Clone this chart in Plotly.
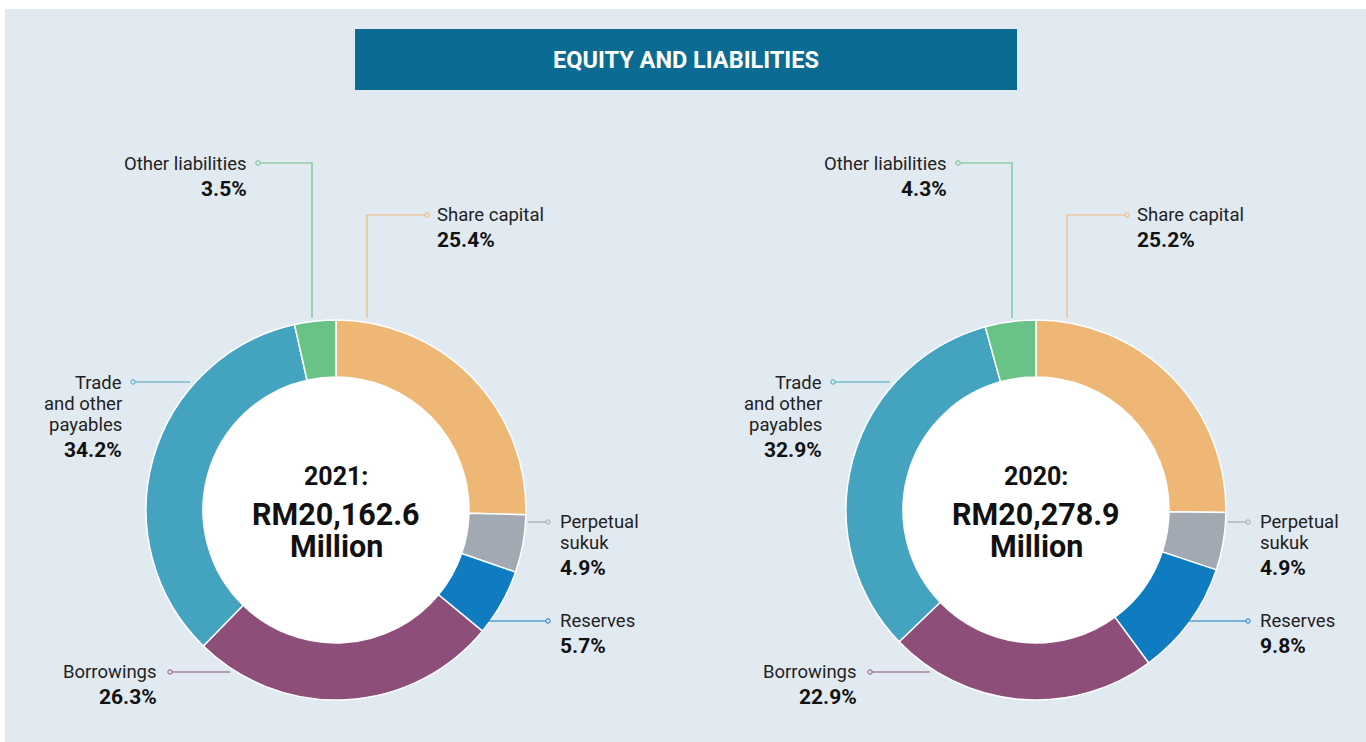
import plotly.graph_objects as go

W, H = 1366, 742

# data
categories = ['Share capital', 'Perpetual sukuk', 'Reserves', 'Borrowings',
              'Trade and other payables', 'Other liabilities']
values_2021 = [25.4, 4.9, 5.7, 26.3, 34.2, 3.5]
values_2020 = [25.2, 4.9, 9.8, 22.9, 32.9, 4.3]
years = ['2021', '2020']
totals = ['RM20,162.6', 'RM20,278.9']

colors = ['#eeb776', '#a3a9b2', '#0f7cc1', '#8d4f7a', '#44a3bf', '#69c286']

# label text as shown in the picture (line breaks)
label_lines = {
    'Share capital': ['Share capital'],
    'Perpetual sukuk': ['Perpetual', 'sukuk'],
    'Reserves': ['Reserves'],
    'Borrowings': ['Borrowings'],
    'Trade and other payables': ['Trade', 'and other', 'payables'],
    'Other liabilities': ['Other liabilities'],
}

REG = 'Roboto, sans-serif'
BOLD = 'Roboto, sans-serif'
PANEL = '#e2eaf1'


def px(x):
    return x / W


def py(y):
    return 1 - y / H


centers = [(336, 510), (1036, 510)]
R_OUT, R_IN = 190, 133

# label layout relative to donut centre: text anchor x, first-line y, side,
# leader polyline points (relative), dot at end
label_layout = {
    'Share capital': dict(tx=99, ty=-295, side='left',
                          pts=[(31, -192), (31, -295), (91, -295)]),
    'Perpetual sukuk': dict(tx=222, ty=12, side='left',
                            pts=[(192, 12), (212, 12)]),
    'Reserves': dict(tx=222, ty=111, side='left',
                     pts=[(149, 111), (212, 111)]),
    'Borrowings': dict(tx=-177, ty=162, side='right',
                       pts=[(-106, 162), (-166, 162)]),
    'Trade and other payables': dict(tx=-212, ty=-127, side='right',
                                     pts=[(-146, -128), (-203, -128)]),
    'Other liabilities': dict(tx=-87, ty=-346, side='right',
                              pts=[(-24, -192), (-24, -347), (-78, -347)]),
}

fig = go.Figure()
shapes = []
annotations = []

# panel and banner
shapes.append(dict(type='rect', xref='paper', yref='paper', layer='below',
                   x0=px(5), x1=px(W), y0=py(H), y1=py(9),
                   fillcolor=PANEL, line=dict(width=0)))
shapes.append(dict(type='rect', xref='paper', yref='paper', layer='below',
                   x0=px(355), x1=px(1017), y0=py(90), y1=py(29),
                   fillcolor='#0b6b93', line=dict(width=0)))
annotations.append(dict(xref='paper', yref='paper', x=px(686), y=py(60),
                        text='<b>EQUITY AND LIABILITIES</b>', showarrow=False,
                        font=dict(family=BOLD, size=23.5, color='white'),
                        xanchor='center', yanchor='middle'))

for k, (vals, year, total) in enumerate(zip([values_2021, values_2020], years, totals)):
    cx, cy = centers[k]
    fig.add_trace(go.Pie(
        labels=categories, values=vals, sort=False, direction='clockwise',
        rotation=0, hole=R_IN / R_OUT, textinfo='none', hoverinfo='label+percent',
        marker=dict(colors=colors, line=dict(color='white', width=1.5)),
        domain=dict(x=[px(cx - R_OUT), px(cx + R_OUT)],
                    y=[py(cy + R_OUT), py(cy - R_OUT)]),
        showlegend=False,
    ))
    # white hole
    shapes.append(dict(type='circle', xref='paper', yref='paper', layer='below',
                       x0=px(cx - R_IN), x1=px(cx + R_IN),
                       y0=py(cy + R_IN), y1=py(cy - R_IN),
                       fillcolor='white', line=dict(width=0)))
    # centre text
    annotations.append(dict(xref='paper', yref='paper', x=px(cx), y=py(cy - 34),
                            text=f'<b>{year}:</b>', showarrow=False,
                            font=dict(family=BOLD, size=25, color='#111'),
                            xanchor='center', yanchor='middle'))
    annotations.append(dict(xref='paper', yref='paper', x=px(cx), y=py(cy + 4),
                            text=f'<b>{total}</b>', showarrow=False,
                            font=dict(family=BOLD, size=30.5, color='#111'),
                            xanchor='center', yanchor='middle'))
    annotations.append(dict(xref='paper', yref='paper', x=px(cx), y=py(cy + 36),
                            text='<b>Million</b>', showarrow=False,
                            font=dict(family=BOLD, size=30.5, color='#111'),
                            xanchor='center', yanchor='middle'))

    for name, v, col in zip(categories, vals, colors):
        L = label_layout[name]
        lines = label_lines[name]
        anchor = 'left' if L['side'] == 'left' else 'right'
        x = px(cx + L['tx'])
        for i, ln in enumerate(lines):
            annotations.append(dict(xref='paper', yref='paper', x=x,
                                    y=py(cy + L['ty'] + 21 * i), text=ln,
                                    showarrow=False, xanchor=anchor, yanchor='middle',
                                    font=dict(family=REG, size=18.5, color='#222')))
        annotations.append(dict(xref='paper', yref='paper', x=x,
                                y=py(cy + L['ty'] + 21 * len(lines) + 4),
                                text=f'<b>{v:.1f}%</b>', showarrow=False,
                                xanchor=anchor, yanchor='middle',
                                font=dict(family=BOLD, size=21, color='#111')))
        pts = L['pts']
        path = 'M ' + ' L '.join(f'{px(cx + a)},{py(cy + b)}' for a, b in pts)
        shapes.append(dict(type='path', xref='paper', yref='paper', path=path,
                           line=dict(color=col, width=1.2)))
        ex, ey = pts[-1]
        shapes.append(dict(type='circle', xref='paper', yref='paper',
                           x0=px(cx + ex - 2.2), x1=px(cx + ex + 2.2),
                           y0=py(cy + ey + 2.2), y1=py(cy + ey - 2.2),
                           fillcolor=PANEL, line=dict(color=col, width=1)))

fig.update_layout(
    width=W, height=H, autosize=False,
    margin=dict(l=0, r=0, t=0, b=0, pad=0),
    paper_bgcolor='white', plot_bgcolor='white',
    shapes=shapes, annotations=annotations,
)

fig.write_html('out.html', config={'displayModeBar': False},
               post_script="document.body.style.margin='0';document.body.style.overflow='hidden';")
